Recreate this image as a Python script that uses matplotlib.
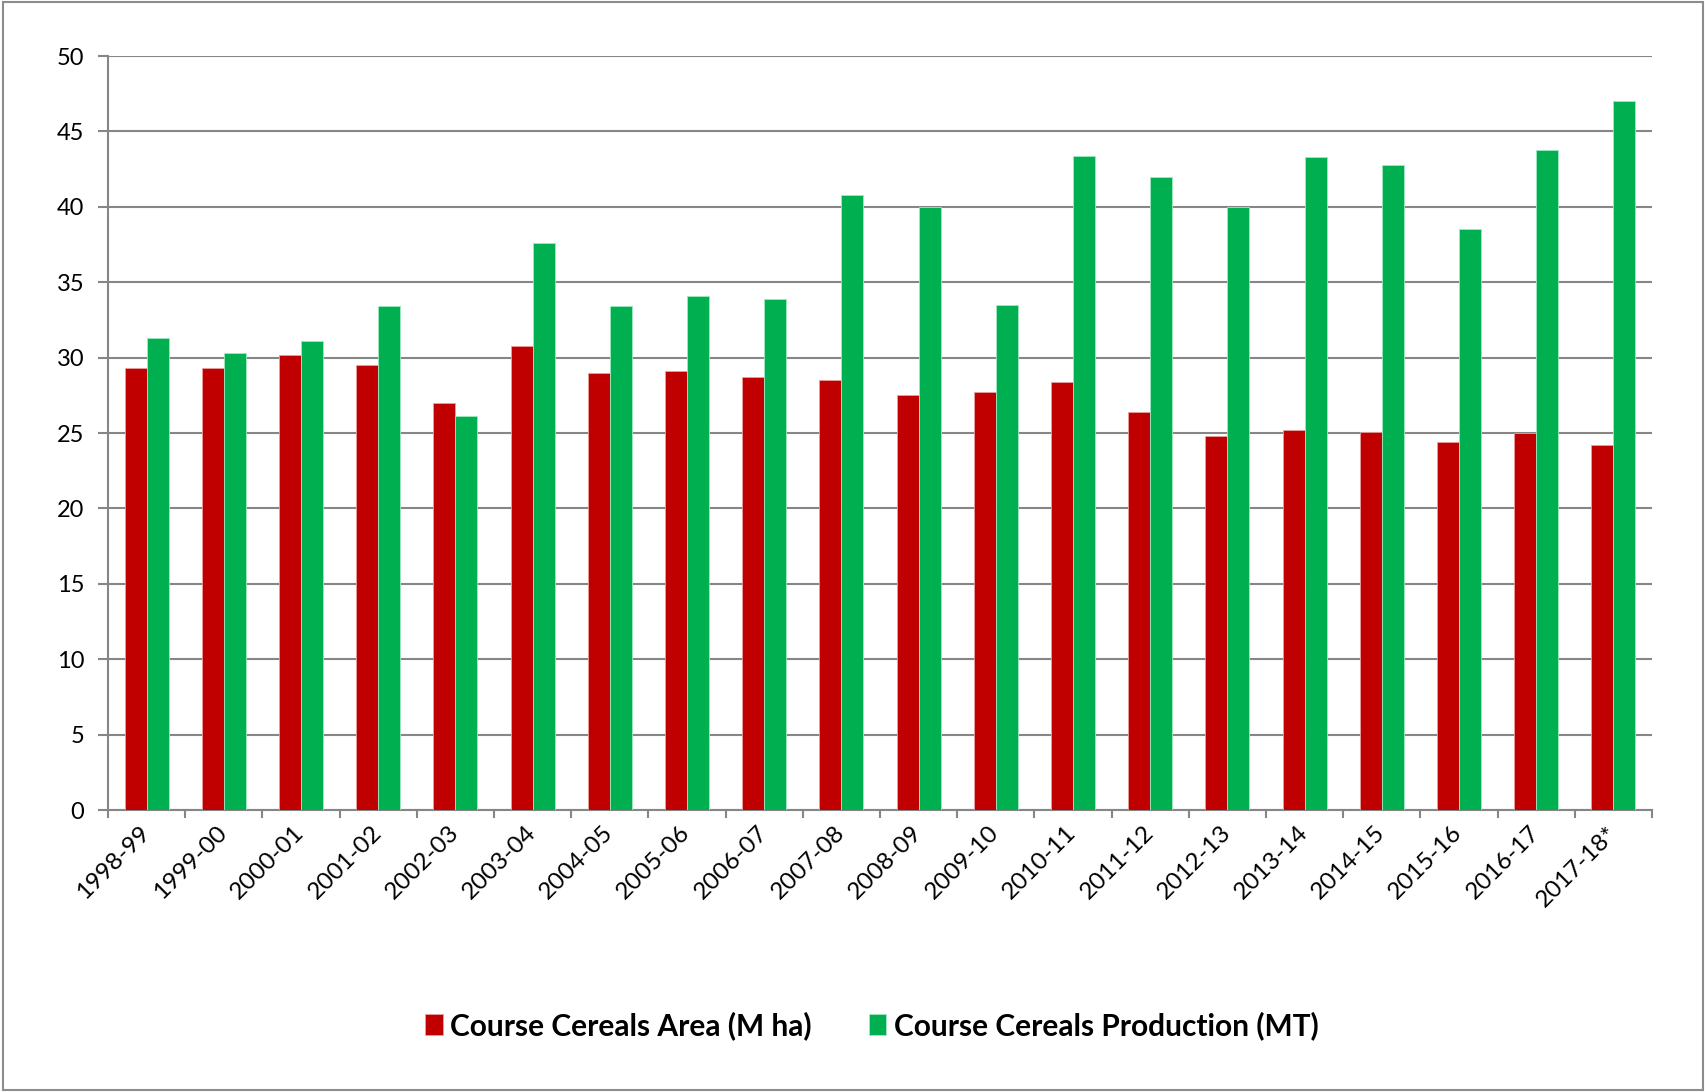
import numpy as np
import matplotlib
matplotlib.use("Agg")
from matplotlib import pyplot as plt
from matplotlib.patches import Rectangle

plt.rcParams['font.family'] = ['Lato', 'DejaVu Sans']

years = ["1998-99", "1999-00", "2000-01", "2001-02", "2002-03", "2003-04",
         "2004-05", "2005-06", "2006-07", "2007-08", "2008-09", "2009-10",
         "2010-11", "2011-12", "2012-13", "2013-14", "2014-15", "2015-16",
         "2016-17", "2017-18*"]
area = [29.3, 29.3, 30.2, 29.5, 27.0, 30.8, 29.0, 29.1, 28.7, 28.5,
        27.5, 27.7, 28.4, 26.4, 24.8, 25.2, 25.1, 24.4, 25.0, 24.2]
production = [31.3, 30.3, 31.1, 33.4, 26.1, 37.6, 33.4, 34.1, 33.9, 40.8,
              40.0, 33.5, 43.4, 42.0, 40.0, 43.3, 42.8, 38.5, 43.8, 47.0]

RED = "#C00000"
GREEN = "#00B050"
GRID = "#868686"

fig = plt.figure(figsize=(17.06, 10.92), dpi=100)
ax = fig.add_axes([0.0633, 0.2582, 0.905, 0.6905])

x = np.arange(len(years))
w = 0.285
ax.bar(x - w / 2, area, width=w, color=RED, edgecolor="#E8A0A0",
       linewidth=0.6, label="Course Cereals Area (M ha)", zorder=3)
ax.bar(x + w / 2, production, width=w, color=GREEN, edgecolor="#A0E8C0",
       linewidth=0.6, label="Course Cereals Production (MT)", zorder=3)

ax.set_xlim(-0.5, len(years) - 0.5)
ax.set_ylim(0, 50)
ax.set_yticks(np.arange(0, 51, 5))
ax.yaxis.grid(True, color=GRID, linewidth=1.5, zorder=0)
ax.set_axisbelow(True)

for side in ["top", "right"]:
    ax.spines[side].set_visible(False)
for side in ["left", "bottom"]:
    ax.spines[side].set_color(GRID)
    ax.spines[side].set_linewidth(1.5)

ax.tick_params(axis="y", length=7, width=1.5, color=GRID, pad=10,
               labelsize=17, labelcolor="black")
ax.set_xticks(x)
ax.set_xticklabels(years, rotation=45, ha="right", va="center",
                   rotation_mode="anchor", fontsize=17.5)
ax.tick_params(axis="x", which="major", length=0, pad=14)
ax.set_xticks(np.arange(-0.5, len(years)), minor=True)
ax.tick_params(axis="x", which="minor", length=6, width=1.5, color=GRID)

fig.legend(loc="center", bbox_to_anchor=(0.511, 0.061), ncol=2, frameon=False,
           prop={"weight": "bold", "size": 21.5}, handlelength=0.6,
           handleheight=0.75, handletextpad=0.25, columnspacing=1.9)

fig.patches.append(Rectangle((0.0015, 0.002), 0.997, 0.996,
                             transform=fig.transFigure, fill=False,
                             edgecolor="#8C8C8C", linewidth=1.5))

fig.savefig("out.png", dpi=100, facecolor="white")
